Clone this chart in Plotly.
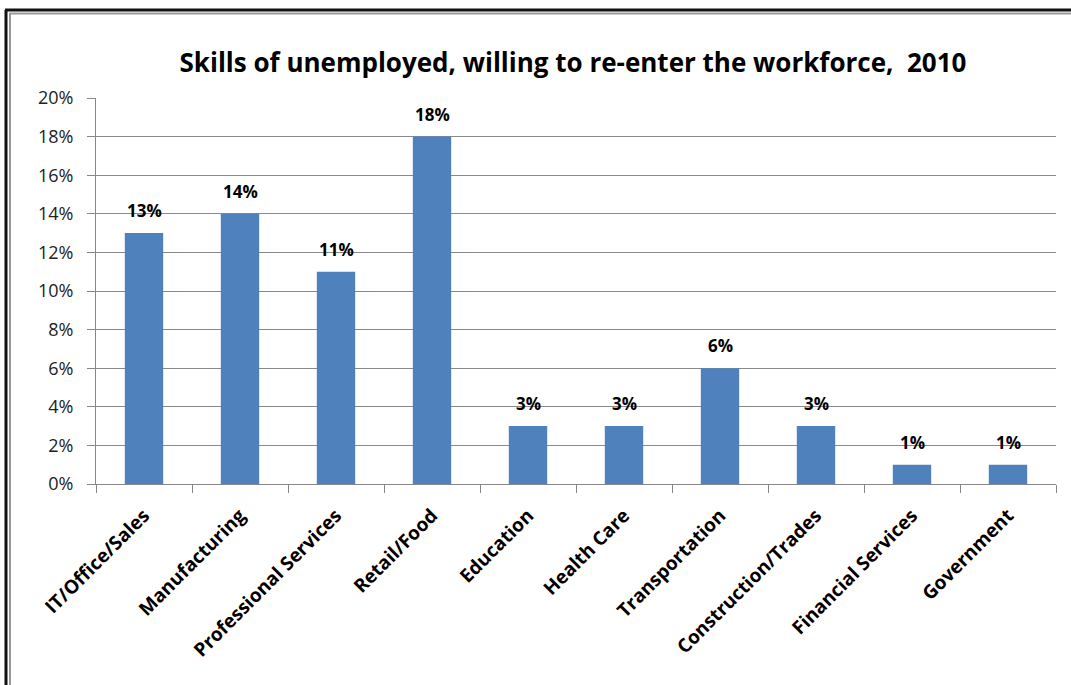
import plotly.graph_objects as go

categories = ["IT/Office/Sales", "Manufacturing", "Professional Services", "Retail/Food",
              "Education", "Health Care", "Transportation", "Construction/Trades",
              "Financial Services", "Government"]
shares = [13, 14, 11, 18, 3, 3, 6, 3, 1, 1]
tick_vals = [0, 2, 4, 6, 8, 10, 12, 14, 16, 18, 20]
tick_text = [f"{v}%" for v in tick_vals]

W, H = 1071, 685
L, R, T, B = 96, 15, 98, 201
pw, ph = W - L - R, H - T - B


def px_x(x):
    return (x - L) / pw


def px_y(y):
    return (H - B - y) / ph


font = "Open Sans, sans-serif"

fig = go.Figure(go.Bar(
    x=categories, y=shares,
    marker=dict(color="#4F81BD", line=dict(width=0)),
    width=0.4,
    hovertemplate="%{x}: %{y}%<extra></extra>",
))

# value labels above each bar
annotations = [
    dict(x=c, y=v, xref="x", yref="y", text=f"{v}%", showarrow=False,
         yanchor="bottom", yshift=9,
         font=dict(size=17, color="#000000", family=font, weight="bold"))
    for c, v in zip(categories, shares)
]

# outer double frame on the left and top edges
shapes = [
    dict(type="line", xref="paper", yref="paper", x0=px_x(6), x1=px_x(6),
         y0=px_y(10), y1=px_y(H + 5), line=dict(color="#111111", width=3)),
    dict(type="line", xref="paper", yref="paper", x0=px_x(5), x1=px_x(W + 5),
         y0=px_y(10), y1=px_y(10), line=dict(color="#111111", width=3)),
    dict(type="line", xref="paper", yref="paper", x0=px_x(10), x1=px_x(10),
         y0=px_y(13.5), y1=px_y(H + 5), line=dict(color="#999999", width=2)),
    dict(type="line", xref="paper", yref="paper", x0=px_x(9), x1=px_x(W + 5),
         y0=px_y(13.5), y1=px_y(13.5), line=dict(color="#999999", width=2)),
]

fig.update_layout(
    width=W, height=H,
    margin=dict(l=L, r=R, t=T, b=B),
    paper_bgcolor="white", plot_bgcolor="white",
    title=dict(text="Skills of unemployed, willing to re-enter the workforce,  2010",
               x=573 / W, xanchor="center", y=1 - 63 / H, yanchor="middle",
               font=dict(size=26, color="#000000", family=font, weight="bold")),
    showlegend=False,
    shapes=shapes,
    annotations=annotations,
    xaxis=dict(
        tickangle=-45,
        tickfont=dict(size=19, color="#000000", family=font, weight="bold"),
        ticklabelstandoff=12,
        showline=True, linecolor="#888888", linewidth=1,
        ticks="outside", ticklen=8, tickcolor="#888888", tickson="boundaries",
        showgrid=False,
        categoryorder="array", categoryarray=categories,
    ),
    yaxis=dict(
        range=[0, 20],
        tickvals=tick_vals, ticktext=tick_text,
        tickfont=dict(size=18, color="#222222", family=font),
        ticklabelstandoff=10,
        showline=True, linecolor="#888888", linewidth=1,
        ticks="outside", ticklen=8, tickcolor="#888888",
        showgrid=True, gridcolor="#8a8a8a", gridwidth=1,
        zeroline=False,
    ),
)

fig.write_html("out.html")
